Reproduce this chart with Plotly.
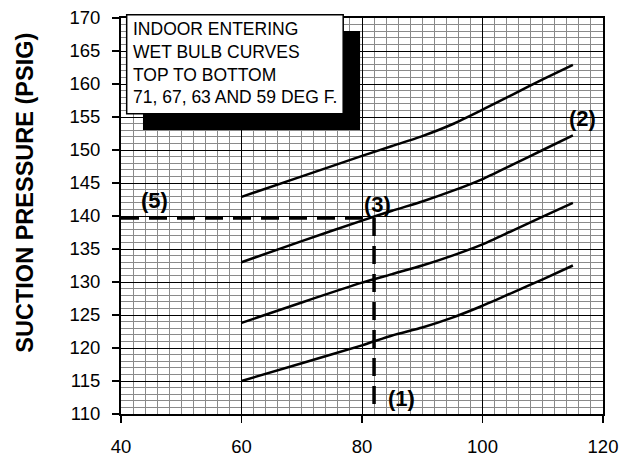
import plotly.graph_objects as go

# Data
outdoor_temp = [60, 70, 80, 85, 90, 95, 100, 105, 110, 115]
wb71 = [142.9, 146.0, 149.1, 150.6, 152.1, 153.9, 156.1, 158.4, 160.7, 162.9]
wb67 = [133.0, 136.2, 139.3, 140.8, 142.2, 143.8, 145.6, 147.8, 150.0, 152.2]
wb63 = [123.8, 126.9, 129.9, 131.2, 132.5, 134.0, 135.7, 137.8, 139.9, 142.0]
wb59 = [115.0, 117.7, 120.4, 121.9, 123.1, 124.6, 126.4, 128.4, 130.4, 132.5]

guide_h_x = [40, 82.0]
guide_h_y = [139.7, 139.7]
guide_v_x = [82.0, 82.0]
guide_v_y = [139.7, 110]

x_ticks = [40, 60, 80, 100, 120]
y_ticks = list(range(110, 171, 5))

callout_text = ["(5)", "(3)", "(2)", "(1)"]
callout_x = [45.6, 82.65, 116.6, 86.5]
callout_y = [142.4, 141.7, 154.8, 112.3]

box_text = "INDOOR ENTERING<br>WET BULB CURVES<br>TOP TO BOTTOM<br>71, 67, 63 AND 59 DEG F."

FONT = "Liberation Sans, Arial, sans-serif"

fig = go.Figure()
for ys in [wb71, wb67, wb63, wb59]:
    fig.add_trace(go.Scatter(x=outdoor_temp, y=ys, mode="lines",
                             line=dict(color="black", width=2.5, shape="spline", smoothing=0.6),
                             showlegend=False, hoverinfo="skip"))

fig.add_trace(go.Scatter(x=guide_h_x, y=guide_h_y, mode="lines",
                         line=dict(color="black", width=3.5, dash="18px,10px"),
                         showlegend=False, hoverinfo="skip"))
fig.add_trace(go.Scatter(x=guide_v_x, y=guide_v_y, mode="lines",
                         line=dict(color="black", width=3.5, dash="18px,10px"),
                         showlegend=False, hoverinfo="skip"))

for t, x, y in zip(callout_text, callout_x, callout_y):
    fig.add_annotation(x=x, y=y, xref="x", yref="y", text="<b>" + t + "</b>",
                       showarrow=False, font=dict(family=FONT, size=22, color="black"),
                       xanchor="center", yanchor="middle")

# text box with shadow (paper coords)
fig.add_shape(type="rect", xref="paper", yref="paper", x0=0.0456, x1=0.496, y0=0.717, y1=0.967,
              fillcolor="black", line=dict(width=0), layer="above")
fig.add_shape(type="rect", xref="paper", yref="paper", x0=0.0118, x1=0.461, y0=0.758, y1=1.008,
              fillcolor="white", line=dict(color="black", width=1.5), layer="above")
fig.add_annotation(x=0.0205, y=1.003, xref="paper", yref="paper", text=box_text,
                   showarrow=False, align="left", xanchor="left", yanchor="top",
                   font=dict(family=FONT, size=17.5, color="black"))

# y-axis title
fig.add_annotation(x=-0.2, y=0.558, xref="paper", yref="paper",
                   text="<b>SUCTION PRESSURE (PSIG)</b>", textangle=-90, showarrow=False,
                   font=dict(family=FONT, size=23.5, color="black"),
                   xanchor="center", yanchor="middle")

fig.update_layout(
    width=624, height=459,
    margin=dict(l=121, r=21, t=18, b=45),
    paper_bgcolor="white", plot_bgcolor="white",
    font=dict(family=FONT, color="black"),
    xaxis=dict(range=[40, 120], tickvals=x_ticks, ticktext=[str(v) for v in x_ticks],
               ticks="outside", ticklen=7, tickcolor="black", tickwidth=1.5,
               showline=True, linecolor="black", linewidth=2, mirror=True,
               showgrid=True, gridcolor="black", gridwidth=1,
               minor=dict(dtick=2, tick0=40, showgrid=True, gridcolor="#8a8a8a", gridwidth=1, ticks=""),
               tickfont=dict(size=18.5), zeroline=False, ticklabelstandoff=8, automargin=False,
               ticklabeloverflow="allow"),
    yaxis=dict(range=[110, 170], tickvals=y_ticks, ticktext=[str(v) for v in y_ticks],
               ticks="outside", ticklen=7, tickcolor="black", tickwidth=1.5,
               showline=True, linecolor="black", linewidth=2, mirror=True,
               showgrid=True, gridcolor="black", gridwidth=1,
               minor=dict(dtick=1, tick0=110, showgrid=True, gridcolor="#8a8a8a", gridwidth=1, ticks=""),
               tickfont=dict(size=18.5), zeroline=False, ticklabelstandoff=8, automargin=False,
               ticklabeloverflow="allow"),
)

fig.write_html("out.html", config={"displayModeBar": False, "staticPlot": True},
               post_script="document.body.style.margin='0';document.body.style.overflow='hidden';")
